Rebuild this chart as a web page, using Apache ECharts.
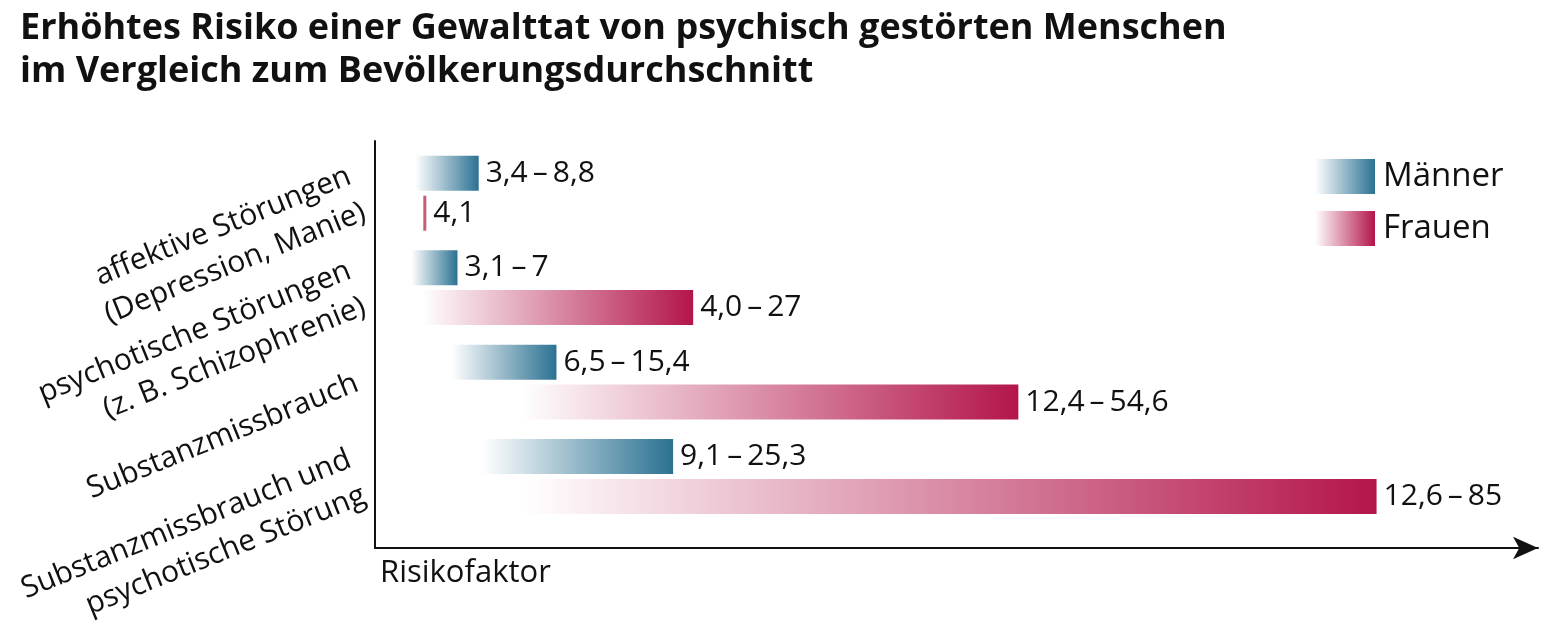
<!DOCTYPE html>
<html>
<head>
<meta charset="utf-8">
<script src="https://cdn.jsdelivr.net/npm/echarts@6/dist/echarts.min.js"></script>
<style>
  html, body { margin: 0; padding: 0; background: #ffffff; }
  #chart { width: 1557px; height: 644px; }
</style>
</head>
<body>
<div id="chart"></div>
<script>
// ---- data ----
const categories = [
  'affektive Störungen\n(Depression, Manie)',
  'psychotische Störungen\n(z. B. Schizophrenie)',
  'Substanzmissbrauch',
  'Substanzmissbrauch und\npsychotische Störung'
];
const maennerLow  = [3.4, 3.1, 6.5, 9.1];
const maennerHigh = [8.8, 7, 15.4, 25.3];
const frauenLow   = [4.1, 4.0, 12.4, 12.6];
const frauenHigh  = [4.1, 27, 54.6, 85];
const titleText = 'Erhöhtes Risiko einer Gewalttat von psychisch gestörten Menschen\nim Vergleich zum Bevölkerungsdurchschnitt';
const axisName = 'Risikofaktor';

// ---- helpers ----
const FONT = 'Open Sans';
const BLUE = '#2b7192';
const RED = '#b3154a';
function grad(hex) {
  const r = parseInt(hex.slice(1, 3), 16), g = parseInt(hex.slice(3, 5), 16), b = parseInt(hex.slice(5, 7), 16);
  return new echarts.graphic.LinearGradient(0, 0, 1, 0, [
    { offset: 0, color: `rgba(${r},${g},${b},0)` },
    { offset: 1, color: `rgba(${r},${g},${b},1)` }
  ]);
}
function fmtLow(v) { return v.toFixed(1).replace('.', ','); }
function fmtHigh(v) { return (Number.isInteger(v) ? String(v) : v.toFixed(1)).replace('.', ','); }
function rangeLabel(lo, hi, i) {
  if (lo[i] === hi[i]) return fmtLow(lo[i]);
  return fmtLow(lo[i]) + '\u2009–\u2009' + fmtHigh(hi[i]);
}
const XMAX = 98.7;

const chart = echarts.init(document.getElementById('chart'), null, { renderer: 'canvas' });

const labelStyle = {
  show: true, position: 'right', distance: 7,
  fontFamily: FONT, fontSize: 30, color: '#111'
};

chart.setOption({
  animation: false,
  backgroundColor: '#ffffff',
  title: [
    {
      text: titleText, left: 15, top: 2,
      textStyle: { fontFamily: FONT, fontWeight: 'bold', fontSize: 36, lineHeight: 43, color: '#111' }
    },
    {
      text: axisName, left: 375, top: 553,
      textStyle: { fontFamily: FONT, fontWeight: 'normal', fontSize: 31, color: '#111' }
    }
  ],
  legend: {
    data: ['Männer', 'Frauen'],
    orient: 'vertical', left: 1315, top: 159, padding: 0,
    icon: 'rect',
    itemWidth: 60, itemHeight: 35, itemGap: 17,
    selectedMode: false,
    textStyle: { fontFamily: FONT, fontSize: 33, color: '#111', padding: [5, 0, 0, 3] }
  },
  grid: [
    { left: 375, right: 19, top: 146, bottom: 105, containLabel: false },
    { left: 375, right: 19, top: 141, bottom: 96, containLabel: false }
  ],
  xAxis: [
    {
      type: 'value', gridIndex: 0, min: 0, max: XMAX,
      axisLine: { show: false }, axisTick: { show: false },
      axisLabel: { show: false }, splitLine: { show: false }
    },
    {
      type: 'value', gridIndex: 1, min: 0, max: XMAX,
      axisLine: { show: true, onZero: false, symbol: ['none', 'arrow'], symbolSize: [17, 25],
        lineStyle: { color: '#111', width: 2 } },
      axisTick: { show: false }, axisLabel: { show: false }, splitLine: { show: false }
    }
  ],
  yAxis: [
    {
      type: 'category', gridIndex: 0, data: categories, inverse: true,
      axisLine: { show: false }, axisTick: { show: false }, splitLine: { show: false },
      axisLabel: {
        rotate: 22, margin: 18, fontFamily: FONT, fontSize: 30, lineHeight: 39,
        color: '#111', align: 'right'
      }
    },
    {
      type: 'value', gridIndex: 1, min: 0, max: 1,
      axisLine: { show: true, onZero: false, lineStyle: { color: '#111', width: 2 } },
      axisTick: { show: false }, axisLabel: { show: false }, splitLine: { show: false }
    }
  ],
  series: [
    {
      name: 'm_base', type: 'bar', stack: 'm', xAxisIndex: 0, yAxisIndex: 0,
      data: maennerLow, barWidth: 35, barGap: '14%',
      itemStyle: { color: 'rgba(0,0,0,0)' }, silent: true
    },
    {
      name: 'Männer', type: 'bar', stack: 'm', xAxisIndex: 0, yAxisIndex: 0,
      data: maennerHigh.map((h, i) => +(h - maennerLow[i]).toFixed(2)),
      barWidth: 35, barGap: '14%',
      itemStyle: { color: grad(BLUE) },
      label: Object.assign({}, labelStyle, {
        formatter: p => rangeLabel(maennerLow, maennerHigh, p.dataIndex)
      })
    },
    {
      name: 'f_base', type: 'bar', stack: 'f', xAxisIndex: 0, yAxisIndex: 0,
      data: frauenLow, barWidth: 35, barGap: '14%',
      itemStyle: { color: 'rgba(0,0,0,0)' }, silent: true
    },
    {
      name: 'Frauen', type: 'bar', stack: 'f', xAxisIndex: 0, yAxisIndex: 0,
      data: frauenHigh.map((h, i) => {
        const v = +(h - frauenLow[i]).toFixed(2);
        return v === 0 ? { value: v, itemStyle: { color: '#c95b74' } } : v;
      }),
      barWidth: 35, barGap: '14%', barMinHeight: 3,
      itemStyle: { color: grad(RED) },
      label: Object.assign({}, labelStyle, {
        formatter: p => rangeLabel(frauenLow, frauenHigh, p.dataIndex)
      })
    }
  ]
});
</script>
</body>
</html>
